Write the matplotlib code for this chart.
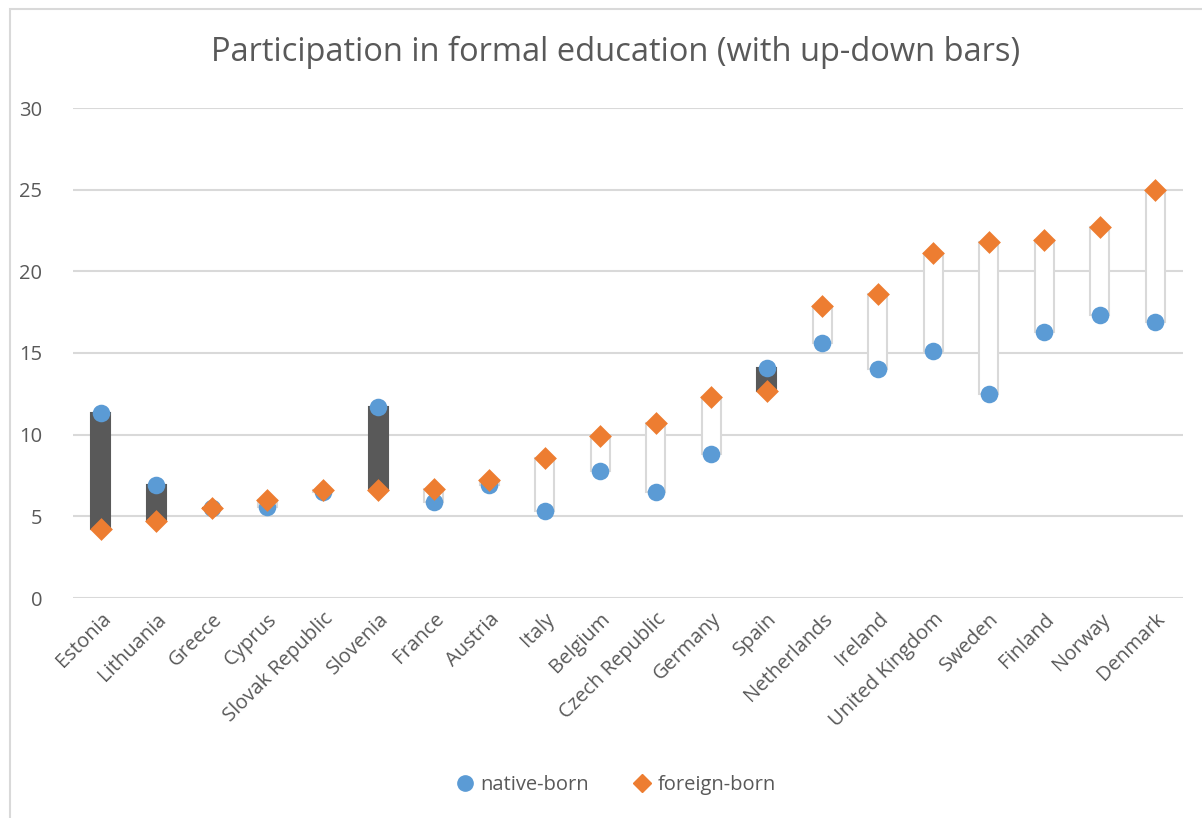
import numpy as np
import matplotlib.pyplot as plt
from matplotlib.lines import Line2D
from matplotlib.patches import Rectangle

plt.rcParams['font.family'] = ['Open Sans', 'DejaVu Sans']

# datos
paises = ['Estonia', 'Lithuania', 'Greece', 'Cyprus', 'Slovak Republic', 'Slovenia',
          'France', 'Austria', 'Italy', 'Belgium', 'Czech Republic', 'Germany', 'Spain',
          'Netherlands', 'Ireland', 'United Kingdom', 'Sweden', 'Finland', 'Norway', 'Denmark']
nativos = [11.3, 6.9, 5.5, 5.6, 6.5, 11.7, 5.9, 6.9, 5.3, 7.8, 6.5, 8.8, 14.1,
           15.6, 14.0, 15.1, 12.5, 16.3, 17.3, 16.9]
extranjeros = [4.2, 4.7, 5.5, 6.0, 6.6, 6.6, 6.7, 7.2, 8.6, 9.9, 10.7, 12.3, 12.7,
               17.9, 18.6, 21.1, 21.8, 21.9, 22.7, 25.0]

gris = '#595959'
azul = '#5B9BD5'
naranja = '#ED7D31'

fig = plt.figure(figsize=(12.02, 8.18), dpi=100)
ax = fig.add_axes([73 / 1202, 220 / 818, 1110 / 1202, 490 / 818])

x = np.arange(len(paises))
nat = np.array(nativos)
ext = np.array(extranjeros)
abajo = np.minimum(nat, ext)
alto = np.abs(ext - nat)

# barras arriba-abajo
colores = ['white' if e > n else gris for n, e in zip(nat, ext)]
bordes = ['#D9D9D9' if e > n else gris for n, e in zip(nat, ext)]
ax.bar(x, alto, bottom=abajo, width=0.34, color=colores, edgecolor=bordes,
       linewidth=1.5, zorder=2)

ax.scatter(x, nat, s=160, marker='o', color=azul, zorder=3, linewidths=0)
ax.scatter(x, ext, s=135, marker='D', color=naranja, zorder=4, linewidths=0)

ax.set_xlim(-0.5, len(paises) - 0.5)
ax.set_ylim(0, 30)
ax.set_yticks(range(0, 31, 5))
ax.grid(axis='y', color='#D9D9D9', linewidth=1.5, zorder=0)
ax.set_axisbelow(True)
for s in ax.spines.values():
    s.set_visible(False)
ax.tick_params(length=0, labelsize=14.5, labelcolor=gris)
ax.tick_params(axis='y', pad=22)
ax.set_xticks(x)
ax.set_xticklabels(paises, rotation=45, ha='right', rotation_mode='anchor')
ax.tick_params(axis='x', pad=8)

fig.text(0.512, 1 - 52 / 818, 'Participation in formal education (with up-down bars)',
         ha='center', va='center', fontsize=23.5, color=gris)

handles = [
    Line2D([], [], marker='o', color=azul, linestyle='none', markersize=11),
    Line2D([], [], marker='D', color=naranja, linestyle='none', markersize=9),
]
fig.legend(handles, ['native-born', 'foreign-born'], loc='center',
           bbox_to_anchor=(0.511, 1 - 785 / 818), ncol=2, frameon=False,
           fontsize=14.5, labelcolor=gris, handletextpad=0.2, columnspacing=2.0,
           handlelength=1.2)

# borde del area del grafico
fig.patches.append(Rectangle((10 / 1202, -0.1), 1.2, 1 - 9 / 818 + 0.1,
                             transform=fig.transFigure, fill=False,
                             edgecolor='#D9D9D9', linewidth=1.5))

plt.savefig('out.png', dpi=100)
